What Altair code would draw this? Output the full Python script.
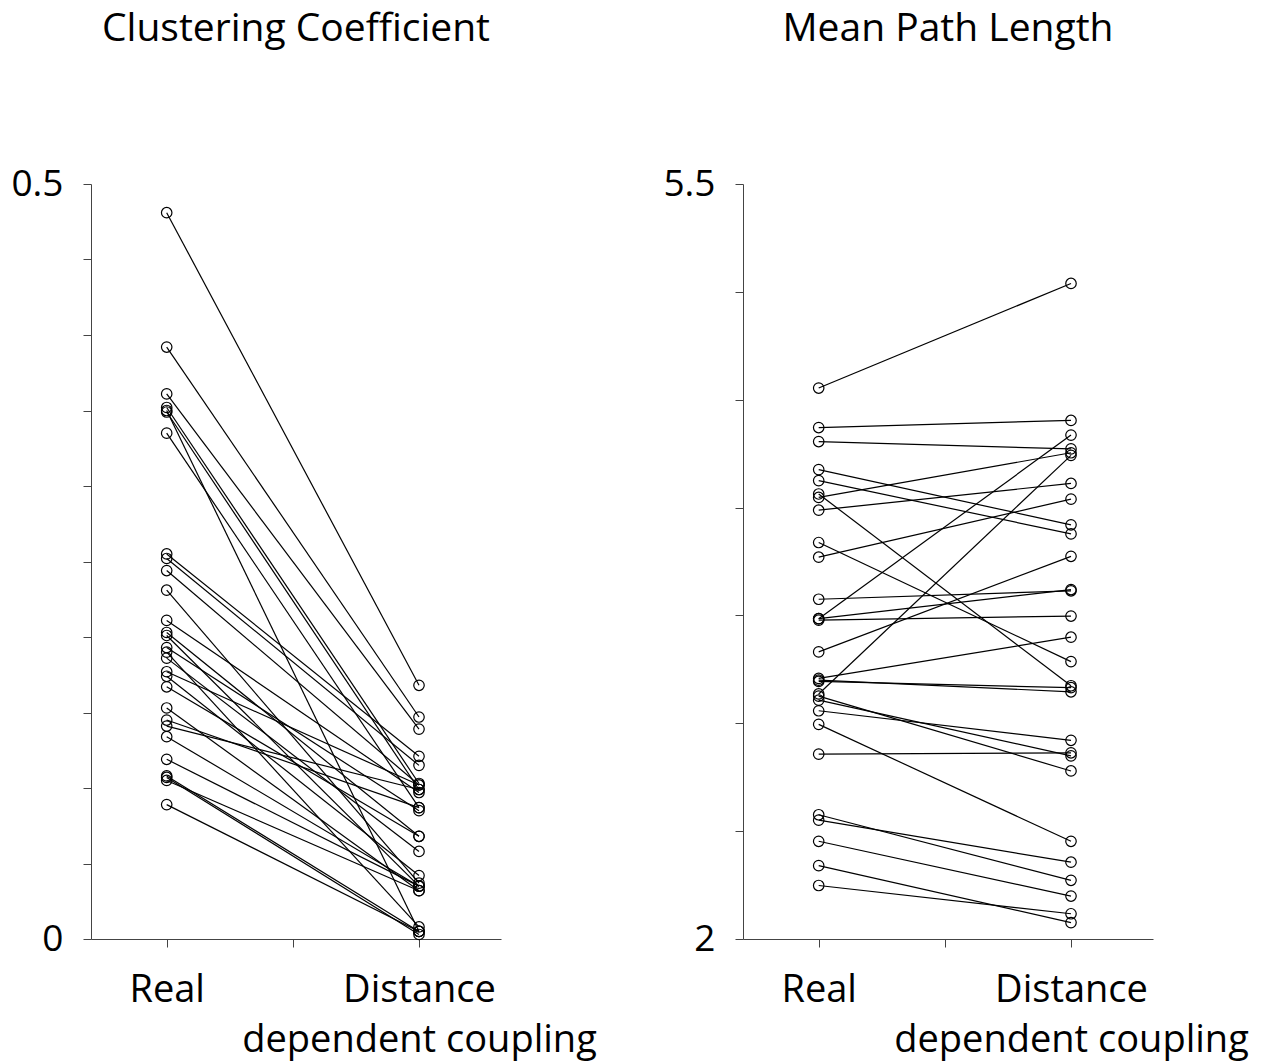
import altair as alt
import pandas as pd

# Per-subject values, paired by index: Real network vs distance dependent coupling model
cc_real = [0.481, 0.392, 0.361, 0.352, 0.350, 0.349, 0.335, 0.255, 0.252, 0.244,
           0.231, 0.211, 0.203, 0.201, 0.193, 0.190, 0.186, 0.177, 0.174, 0.167,
           0.153, 0.145, 0.141, 0.134, 0.119, 0.108, 0.107, 0.105, 0.089]
cc_dist = [0.168, 0.147, 0.139, 0.103, 0.005, 0.099, 0.087, 0.121, 0.115, 0.102,
           0.037, 0.097, 0.068, 0.035, 0.085, 0.008, 0.058, 0.102, 0.042, 0.068,
           0.032, 0.087, 0.099, 0.035, 0.035, 0.005, 0.003, 0.032, 0.005]

pl_real = [4.554, 4.371, 4.306, 4.176, 4.125, 4.063, 4.047, 3.988, 3.838, 3.770,
           3.575, 3.485, 3.485, 3.478, 3.331, 3.208, 3.200, 3.194, 3.136, 3.126,
           3.107, 3.058, 2.995, 2.857, 2.576, 2.551, 2.453, 2.340, 2.248]
pl_dist = [5.039, 4.404, 4.272, 3.920, 3.878, 3.174, 4.254, 4.112, 3.286, 4.039,
           3.614, 4.336, 3.620, 3.497, 3.774, 3.399, 3.146, 3.165, 4.242, 2.779,
           2.849, 2.921, 2.453, 2.863, 2.272, 2.356, 2.199, 2.076, 2.117]

FONT = "Open Sans"


def long_table(real, dist):
    rows = []
    for i, (a, b) in enumerate(zip(real, dist)):
        rows.append({"subject": i, "cond": 1, "value": a})
        rows.append({"subject": i, "cond": 3, "value": b})
    return pd.DataFrame(rows)


def panel(df, title, lo, hi, step, lo_txt, hi_txt):
    n = int(round((hi - lo) / step))
    yticks = [round(lo + k * step, 4) for k in range(n + 1)]
    y_expr = (f"abs(datum.value - {lo}) < 1e-6 ? '{lo_txt}' : "
              f"abs(datum.value - {hi}) < 1e-6 ? '{hi_txt}' : ''")
    x_expr = ("datum.value == 1 ? 'Real' : datum.value == 3 ? "
              "['Distance', 'dependent coupling'] : ''")

    x = alt.X("cond:Q",
              scale=alt.Scale(domain=[0.4, 3.65], nice=False, zero=False),
              axis=alt.Axis(values=[1, 2, 3], labelExpr=x_expr, title=None,
                            labelPadding=24, labelLineHeight=50, labelLimit=0,
                            labelFontSize=38))
    y = alt.Y("value:Q",
              scale=alt.Scale(domain=[lo, hi], nice=False, zero=False),
              axis=alt.Axis(values=yticks, labelExpr=y_expr, title=None,
                            labelPadding=20, labelFontSize=37))

    base = alt.Chart(df)
    lines = base.mark_line(color="black", strokeWidth=1.2).encode(
        x=x, y=y, detail="subject:N")
    dots = base.mark_point(shape="circle", filled=False, color="black",
                           strokeWidth=1.2, size=110, opacity=1).encode(x=x, y=y)
    return alt.layer(lines, dots).properties(
        width=410, height=755,
        title=alt.TitleParams(title, fontSize=39, font=FONT, fontWeight="normal",
                              anchor="middle", offset=116, color="black"))


left = panel(long_table(cc_real, cc_dist), "Clustering Coefficient", 0, 0.5, 0.05, "0", "0.5")
right = panel(long_table(pl_real, pl_dist), "Mean Path Length", 2, 5.5, 0.5, "2", "5.5")

chart = alt.hconcat(
    left, right, spacing=242, bounds="flush",
    padding={"left": 10, "top": 10, "right": 5, "bottom": 20},
).configure_view(
    stroke=None
).configure_axis(
    grid=False, domainColor="#444", tickColor="#444", tickSize=8,
    domainWidth=1, tickWidth=1, labelFont=FONT,
    labelColor="black", labelFontWeight="normal"
)

chart.save("out.html", embed_options={"renderer": "svg", "actions": False})
